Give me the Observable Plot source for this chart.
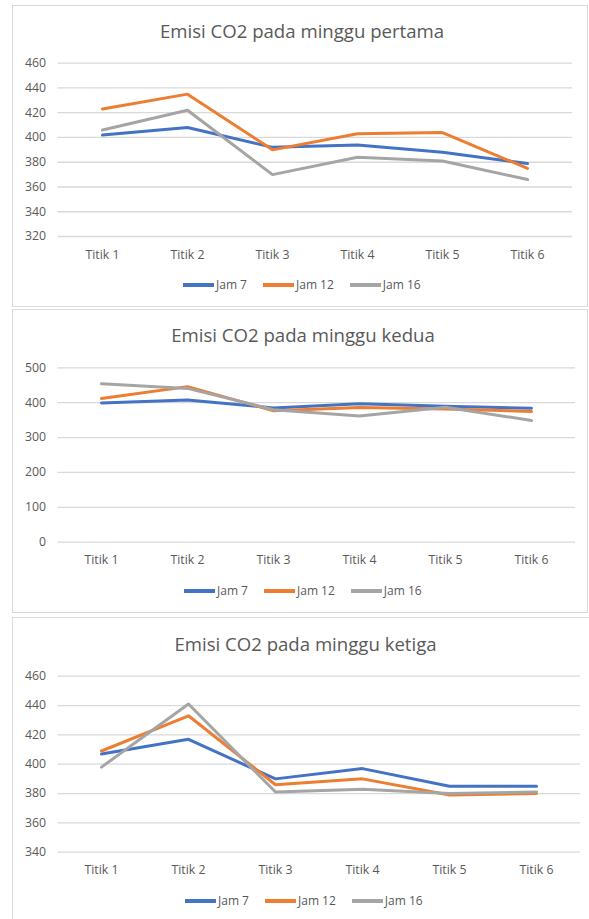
<!DOCTYPE html>
<html>
<head>
<meta charset="utf-8">
<script src="https://cdn.jsdelivr.net/npm/d3@7"></script>
<script src="https://cdn.jsdelivr.net/npm/@observablehq/plot@0.6"></script>
<style>
  html, body { margin: 0; padding: 0; background: #fff; }
  body { width: 589px; height: 919px; position: relative; overflow: hidden; font-family: "Open Sans", sans-serif; }
  .panel { position: absolute; border: 1.5px solid #d9d9d9; box-sizing: border-box; background: #fff; }
  .title { position: absolute; width: 400px; text-align: center; font-size: 18.6px; line-height: 18px; color: #595959; white-space: nowrap; }
  .legend { position: absolute; display: flex; align-items: center; font-size: 12px; line-height: 14px; color: #595959; white-space: nowrap; }
  .legend .item { display: flex; align-items: center; margin-right: 16px; }
  .legend .sw { width: 31px; height: 3.5px; margin-right: 2px; }
  .chart { position: absolute; }
</style>
</head>
<body>
<script>
// ---- data ----
const categories = ["Titik 1", "Titik 2", "Titik 3", "Titik 4", "Titik 5", "Titik 6"];
const seriesNames = ["Jam 7", "Jam 12", "Jam 16"];
const seriesColors = ["#4472C4", "#ED7D31", "#A5A5A5"];

const titles = ["Emisi CO2 pada minggu pertama", "Emisi CO2 pada minggu kedua", "Emisi CO2 pada minggu ketiga"];

const week1Jam7  = [402, 408, 392, 394, 388, 379];
const week1Jam12 = [423, 435, 390, 403, 404, 375];
const week1Jam16 = [406, 422, 370, 384, 381, 366];

const week2Jam7  = [399, 408, 385, 397, 390, 384];
const week2Jam12 = [412, 446, 377, 386, 382, 375];
const week2Jam16 = [454, 441, 380, 362, 387, 349];

const week3Jam7  = [407, 417, 390, 397, 385, 385];
const week3Jam12 = [409, 433, 386, 390, 379, 380];
const week3Jam16 = [398, 441, 381, 383, 380, 381];

const yTicks1 = [320, 340, 360, 380, 400, 420, 440, 460];
const yTicks2 = [0, 100, 200, 300, 400, 500];
const yTicks3 = [340, 360, 380, 400, 420, 440, 460];

// ---- layout ----
const panels = [
  { box: [12, 5, 576, 302], svgTop: 45, mt: 17.7, mb: 39, mr: 17, titleTop: 22, titleX: 302, legendLeft: 183, legendTop: 278,
    series: [week1Jam7, week1Jam12, week1Jam16], ticks: yTicks1, domain: [320, 460] },
  { box: [12, 309, 576, 304], svgTop: 350, mt: 17.3, mb: 38.3, mr: 14, titleTop: 326, titleX: 303, legendLeft: 184, legendTop: 584,
    series: [week2Jam7, week2Jam12, week2Jam16], ticks: yTicks2, domain: [0, 500] },
  { box: [12, 617, 590, 310], svgTop: 658, mt: 17.7, mb: 36.3, mr: 9, titleTop: 635, titleX: 305.5, legendLeft: 185, legendTop: 894,
    series: [week3Jam7, week3Jam12, week3Jam16], ticks: yTicks3, domain: [340, 460] }
];

panels.forEach((p, i) => {
  const panel = document.createElement("div");
  panel.className = "panel";
  Object.assign(panel.style, { left: p.box[0] + "px", top: p.box[1] + "px", width: p.box[2] + "px", height: p.box[3] + "px" });
  document.body.appendChild(panel);

  const title = document.createElement("div");
  title.className = "title";
  title.textContent = titles[i];
  Object.assign(title.style, { left: (p.titleX - 200) + "px", top: p.titleTop + "px" });
  document.body.appendChild(title);

  const rows = [];
  p.series.forEach((vals, s) => vals.forEach((v, k) => rows.push({ cat: categories[k], value: v, series: seriesNames[s] })));

  const chart = Plot.plot({
    width: 576,
    height: 230,
    marginLeft: 44.5,
    marginRight: p.mr,
    marginTop: p.mt,
    marginBottom: p.mb,
    style: { fontFamily: "Open Sans, sans-serif", fontSize: "12.3px", color: "#595959", background: "transparent" },
    x: { type: "point", domain: categories, padding: 0.5 },
    y: { domain: p.domain },
    color: { domain: seriesNames, range: seriesColors },
    marks: [
      Plot.ruleY(p.ticks, { stroke: "#d9d9d9", strokeWidth: 1.3 }),
      Plot.axisY(p.ticks, { tickSize: 0, tickPadding: 12, label: null }),
      Plot.axisX({ tickSize: 0, tickPadding: 13.5, label: null }),
      Plot.line(rows, { x: "cat", y: "value", z: "series", stroke: "series", strokeWidth: 3, strokeLinejoin: "round", strokeLinecap: "round" })
    ]
  });
  chart.classList.add("chart");
  Object.assign(chart.style, { left: "13px", top: p.svgTop + "px" });
  document.body.appendChild(chart);

  const legend = document.createElement("div");
  legend.className = "legend";
  Object.assign(legend.style, { left: p.legendLeft + "px", top: p.legendTop + "px" });
  seriesNames.forEach((name, s) => {
    const item = document.createElement("div");
    item.className = "item";
    const sw = document.createElement("div");
    sw.className = "sw";
    sw.style.background = seriesColors[s];
    const t = document.createElement("span");
    t.textContent = name;
    item.appendChild(sw);
    item.appendChild(t);
    legend.appendChild(item);
  });
  document.body.appendChild(legend);
});
</script>
</body>
</html>
